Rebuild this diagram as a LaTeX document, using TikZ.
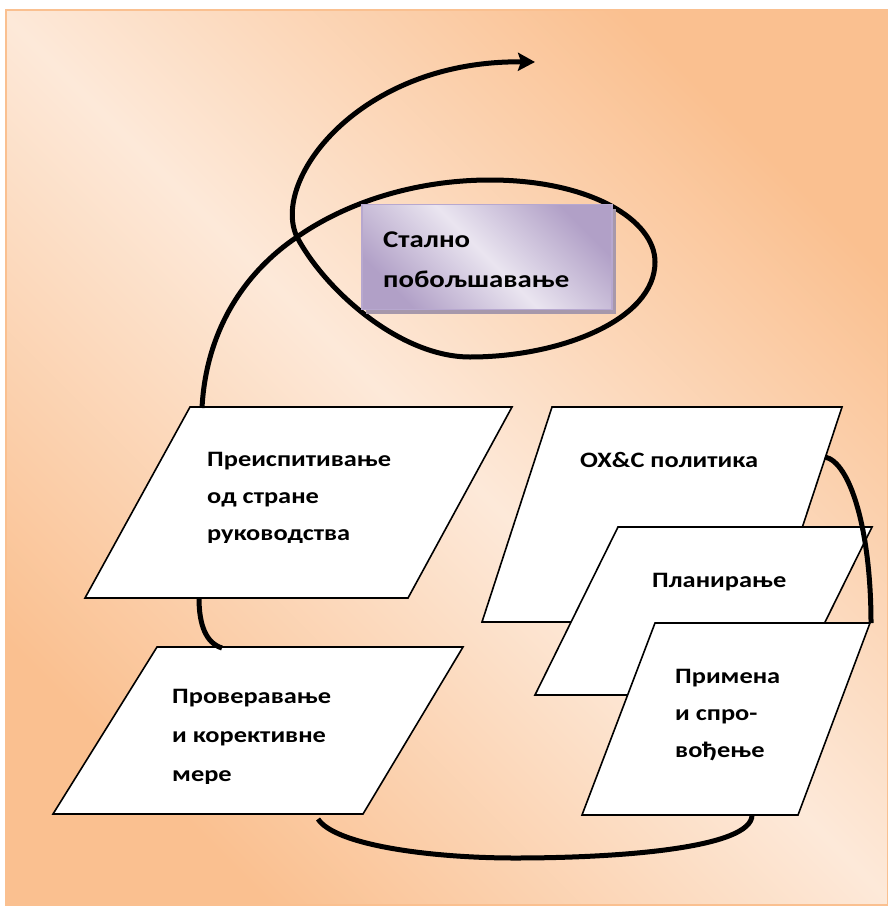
\documentclass[tikz,border=0pt]{standalone}
\usepackage{fontspec}
\setmainfont[FakeStretch=1.2]{Carlito}
\usetikzlibrary{arrows.meta,shadows}
\definecolor{peachdark}{HTML}{FAC090}
\definecolor{peachlight}{HTML}{FDE9D9}
\definecolor{lavdark}{HTML}{B1A0C7}
\definecolor{lavlight}{HTML}{EAE5F0}
\definecolor{lavedge}{HTML}{B7A8CF}
\definecolor{lavshadow}{HTML}{A798AB}
\begin{document}
\begin{tikzpicture}[x=1pt,y=-1pt,
  plg/.style={draw=black, line width=1.6pt, fill=white, line join=miter},
  lbl/.style={anchor=base west, inner sep=0pt, align=left,
    font=\bfseries\fontsize{22}{37}\selectfont},
  flow/.style={draw=black, line width=5pt},
  kaizenbox/.style={minimum width=250pt, minimum height=105pt, inner sep=0pt,
    draw=lavedge, line width=1.2pt,
    top color=lavdark, bottom color=lavdark, middle color=lavlight, shading angle=-45,
    drop shadow={shadow xshift=4pt, shadow yshift=-4pt, fill=lavshadow, opacity=1}},
]
\useasboundingbox (0,0) rectangle (888,907);

% page background
\path[top color=peachdark, bottom color=peachdark, middle color=peachlight,
  shading angle=-45] (6,10) rectangle (888,905);
\draw[peachdark, line width=1.2pt] (6,10) rectangle (888,905);

% corner points of the parallelograms
\coordinate (rv1) at (190,407); \coordinate (rv2) at (512,407);
\coordinate (rv3) at (408,598); \coordinate (rv4) at (85,598);
\coordinate (ck1) at (157,647); \coordinate (ck2) at (463,647);
\coordinate (ck3) at (363,814); \coordinate (ck4) at (53,814);
\coordinate (po1) at (552,407); \coordinate (po2) at (842,407);
\coordinate (po3) at (771,622); \coordinate (po4) at (482,622);
\coordinate (pl1) at (618,527); \coordinate (pl2) at (872,527);
\coordinate (pl3) at (789,695); \coordinate (pl4) at (535,695);
\coordinate (im1) at (655,623); \coordinate (im2) at (870,623);
\coordinate (im3) at (798,815); \coordinate (im4) at (582,815);

% connector ends
\coordinate (rvtop) at (202,408);
\coordinate (rvbot) at (199,598);
\coordinate (cktop) at (222,648);
\coordinate (ckbot) at (318,819);
\coordinate (imbot) at (752,815);
\coordinate (poright) at (825,457);
\coordinate (imtop) at (871,623);
\coordinate (cross) at (297,237);
\coordinate (looptop) at (490,180);
\coordinate (loopright) at (655,262);
\coordinate (loopbot) at (470,357);
\coordinate (tip) at (535,62);

% parallelograms
\draw[plg] (rv1) -- (rv2) -- (rv3) -- (rv4) -- cycle;
\draw[plg] (ck1) -- (ck2) -- (ck3) -- (ck4) -- cycle;
\draw[plg] (po1) -- (po2) -- (po3) -- (po4) -- cycle;
\draw[plg] (pl1) -- (pl2) -- (pl3) -- (pl4) -- cycle;
\draw[plg] (im1) -- (im2) -- (im3) -- (im4) -- cycle;

% labels (the anchor sits on the baseline of the last line)
\begin{scope}
  \clip (0,0) rectangle (888,542);
  \node[lbl] (review) at (207,540) {Преиспитивање\\од стране\\руководства};
\end{scope}
\begin{scope}
  \clip (0,0) rectangle (888,783);
  \node[lbl, font=\bfseries\fontsize{22}{39}\selectfont] (check) at (172,781)
    {Проверавање\\и корективне\\мере};
\end{scope}
\node[lbl] (policy) at (580,467) {ОХ\&С политика};
\node[lbl] (plan) at (652,587) {Планирање};
\node[lbl] (impl) at (675,757) {Примена\\и спро-\\вођење};

% cycle connectors
\draw[flow] (rvbot) .. controls (199,625) and (206,643) .. (cktop);
\draw[flow] (ckbot) .. controls (335,845) and (430,858) .. (515,858)
  .. controls (620,858) and (752,848) .. (imbot);
\draw[flow] (poright) .. controls (850,462) and (871,530) .. (imtop);

% spiral of continual improvement
\draw[flow, -{Stealth[length=17pt, width=18pt, inset=3pt]}]
  (rvtop) .. controls (206,330) and (245,272) .. (cross)
  .. controls (350,200) and (420,180) .. (looptop)
  .. controls (590,180) and (655,220) .. (loopright)
  .. controls (655,320) and (560,357) .. (loopbot)
  .. controls (400,357) and (325,290) .. (cross)
  .. controls (270,180) and (360,60) .. (tip);

% central box
\node[kaizenbox] (kaizen) at (487,257) {};
\node[anchor=base west, inner sep=0pt, align=left,
  font=\bfseries\fontsize{24}{40}\selectfont] (kaizentext) at (383,287)
  {Стално\\побољшавање};
\end{tikzpicture}
\end{document}
